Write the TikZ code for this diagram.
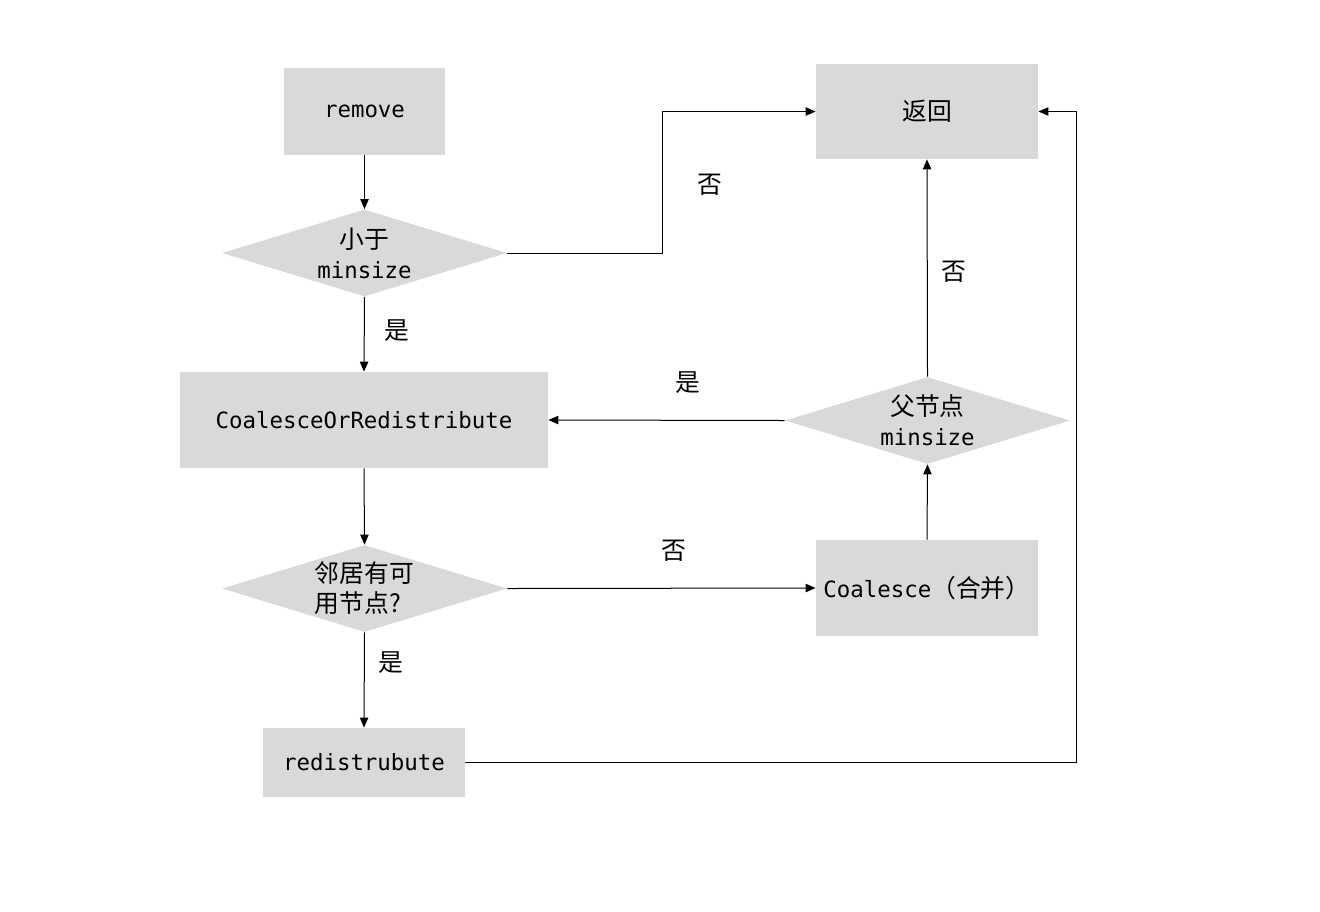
\documentclass[tikz,border=0pt]{standalone}
\usepackage{fontspec}
\setmonofont{DejaVu Sans Mono}
\newfontfamily\cjk{Noto Sans CJK SC}
\usetikzlibrary{shapes.geometric,arrows.meta}
\begin{document}
\begin{tikzpicture}[x=0.5pt,y=-0.5pt,
  box/.style={fill=boxgray,draw=none,inner sep=0pt,font=\fontsize{11.2}{15}\selectfont\ttfamily},
  decision/.style={diamond,fill=boxgray,draw=none,inner sep=0pt,
    minimum width=142.5pt,minimum height=43.5pt},
  dtext/.style={inner sep=0pt,font=\fontsize{11.2}{15}\selectfont\ttfamily},
  zh/.style={font=\fontsize{12.4}{15}\selectfont\cjk},
  lbl/.style={font=\fontsize{12.4}{14}\selectfont\cjk,inner sep=0pt},
  arr/.style={-{Triangle[length=5pt,width=4.2pt]},line width=0.5pt},
  line/.style={line width=0.5pt}]
\definecolor{boxgray}{HTML}{D9D9D9}
\useasboundingbox (0,0) rectangle (1320,911);

% process boxes
\node[box,minimum width=80.5pt,minimum height=43.5pt] (rm) at (364.5,111.5) {remove};
\node[box,minimum width=111pt,minimum height=47.5pt,zh] (ret) at (927,111.5) {返回};
\node[box,minimum width=184pt,minimum height=48pt] (cor) at (364,420) {CoalesceOrRedistribute};
\node[box,minimum width=111pt,minimum height=48pt] (coal) at (927,588) {Coalesce{\cjk\fontsize{12.4}{15}\selectfont（合并）}};
\node[box,minimum width=101pt,minimum height=34.5pt] (redis) at (364,762.5) {redistrubute};

% decisions: diamond outline, text set on top
\node[decision] (d1) at (364.5,253) {};
\node[decision] (d2) at (927.5,420.5) {};
\node[decision] (d3) at (364.5,588.5) {};
\node[dtext,align=center] (t1) at (d1.center) {{\cjk\fontsize{12.4}{15}\selectfont 小于}\\minsize};
\node[dtext,align=center] (t2) at (d2.center) {{\cjk\fontsize{12.4}{15}\selectfont 父节点}\\minsize};
\node[dtext,align=left,zh] (t3) at (d3.center) {邻居有可\\用节点?};

% connectors
\draw[arr] (rm.south) -- (d1.north);
\draw[arr] (d1.east) -- ++(155,0) |- (ret.west);
\draw[arr] (d1.south) -- (cor.north);
\draw[arr] (cor.south) -- (d3.north);
\draw[arr] (d3.east) -- (coal.west);
\draw[arr] (d3.south) -- (redis.north);
\draw[arr] (coal.north) -- (d2.south);
\draw[arr] (d2.west) -- (cor.east);
\draw[arr] (d2.north) -- (ret.south);
\draw[arr] (redis.east) -- ++(611,0) |- (ret.east);

% branch labels
\node[lbl] (l1) at (710,185) {否};
\node[lbl] (l2) at (397,331) {是};
\node[lbl] (l3) at (688,383) {是};
\node[lbl] (l4) at (954,272) {否};
\node[lbl] (l5) at (674,551) {否};
\node[lbl] (l6) at (391,663) {是};
\end{tikzpicture}
\end{document}
